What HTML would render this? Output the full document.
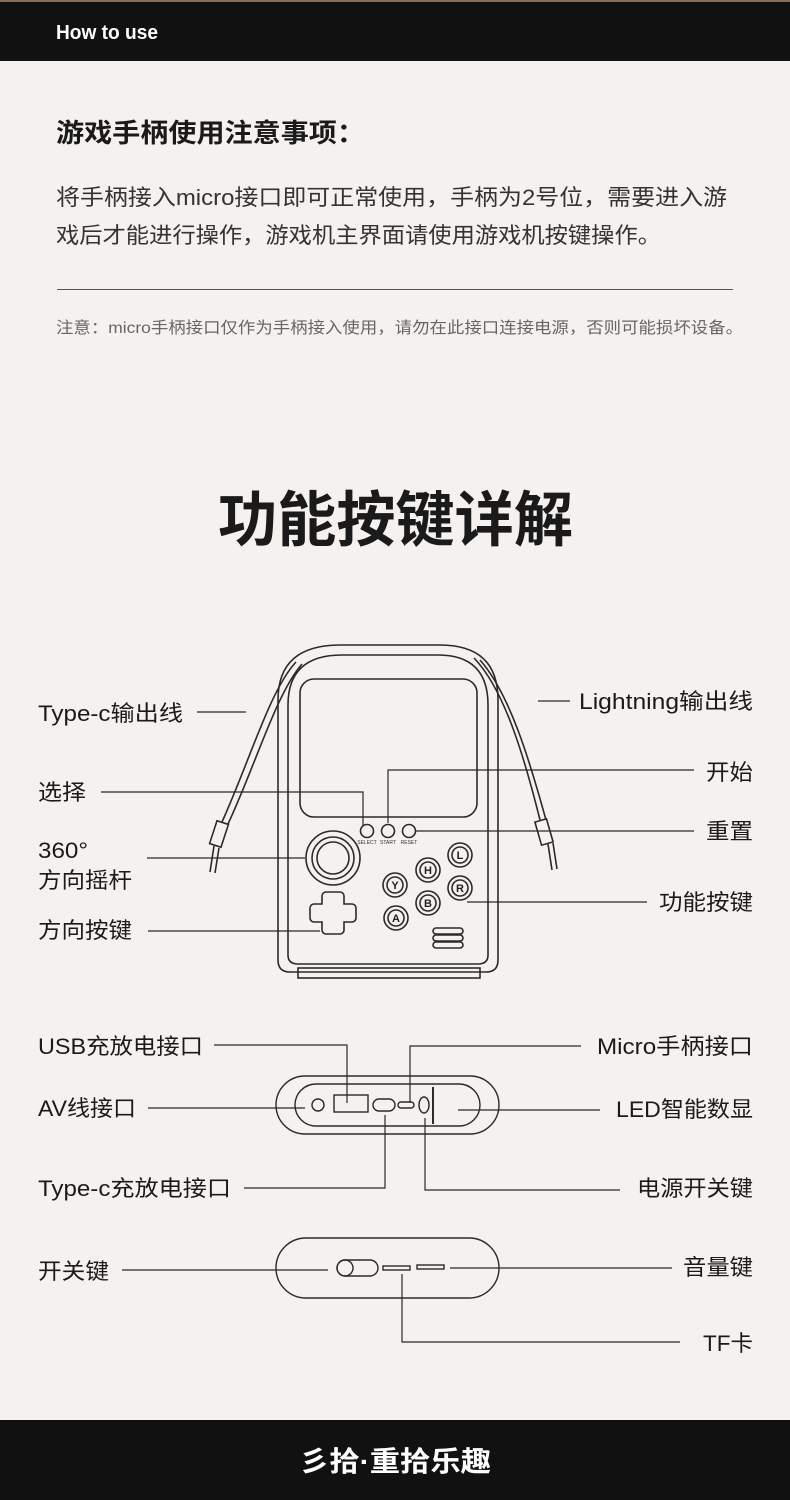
<!DOCTYPE html>
<html><head><meta charset="utf-8"><style>
html,body{margin:0;padding:0;background:#f5f1ee;}
svg{display:block;}
text{font-family:"Liberation Sans","Noto Sans CJK SC",sans-serif;}
</style></head><body>
<svg width="790" height="1500" viewBox="0 0 790 1500" xmlns="http://www.w3.org/2000/svg">
<rect width="790" height="1500" fill="#f5f1ee"/>
<rect x="0" y="0" width="790" height="61" fill="#111"/>
<rect x="0" y="0" width="790" height="2" fill="#8a6b58"/>
<text x="56" y="39" font-size="20" font-weight="bold" fill="#fff" textLength="102" lengthAdjust="spacingAndGlyphs">How to use</text>
<text x="56" y="142" font-size="26" font-weight="bold" fill="#1a1a1a" textLength="309" lengthAdjust="spacingAndGlyphs">游戏手柄使用注意事项：</text>
<text x="56" y="205" font-size="22" fill="#333" textLength="671" lengthAdjust="spacingAndGlyphs">将手柄接入micro接口即可正常使用，手柄为2号位，需要进入游</text>
<text x="56" y="243" font-size="22" fill="#333" textLength="605" lengthAdjust="spacingAndGlyphs">戏后才能进行操作，游戏机主界面请使用游戏机按键操作。</text>
<line x1="57" y1="289.5" x2="733" y2="289.5" stroke="#555" stroke-width="1"/>
<text x="56" y="333" font-size="16" fill="#666" textLength="687" lengthAdjust="spacingAndGlyphs">注意：micro手柄接口仅作为手柄接入使用，请勿在此接口连接电源，否则可能损坏设备。</text>
<text x="218" y="541" font-size="60" font-weight="bold" fill="#1a1a1a" textLength="355" lengthAdjust="spacingAndGlyphs">功能按键详解</text>

<g fill="none" stroke="#2a2a2a" stroke-width="1.6">
<path d="M296 662 C270 690 250 760 222 822"/>
<path d="M302 664 C276 694 256 764 228 824"/>
<rect x="213" y="822" width="12" height="24" transform="rotate(18 219 834)"/>
<line x1="214" y1="846" x2="210" y2="872"/>
<line x1="219" y1="848" x2="215" y2="873"/>
<path d="M474 658 C505 690 525 760 540 820"/>
<path d="M480 660 C510 694 530 762 546 820"/>
<rect x="538" y="820" width="12" height="24" transform="rotate(-16 544 832)"/>
<line x1="548" y1="844" x2="552" y2="870"/>
<line x1="553" y1="843" x2="557" y2="869"/>
<path d="M278 960 L278 700 Q278 645 340 645 L440 645 Q498 645 498 700 L498 960 Q498 972 486 972 L290 972 Q278 972 278 960 Z"/>
<path d="M288 955 L288 705 Q288 655 342 655 L438 655 Q488 655 488 705 L488 955 Q488 964 478 964 L298 964 Q288 964 288 955 Z"/>
<rect x="300" y="679" width="177" height="138" rx="14"/>
<rect x="298" y="968" width="182" height="10"/>
<circle cx="367" cy="831" r="6.5"/><circle cx="388" cy="831" r="6.5"/><circle cx="409" cy="831" r="6.5"/>
<circle cx="333" cy="858" r="27"/><circle cx="333" cy="858" r="21"/><circle cx="333" cy="858" r="16"/>
<path d="M326 895 h14 a4 4 0 0 1 4 4 v8 h8 a4 4 0 0 1 4 4 v10 a4 4 0 0 1 -4 4 h-8 v8 a4 4 0 0 1 -4 4 h-14 a4 4 0 0 1 -4 -4 v-8 h-8 a4 4 0 0 1 -4 -4 v-10 a4 4 0 0 1 4 -4 h8 v-8 a4 4 0 0 1 4 -4 Z" transform="translate(0,-3)"/>
<circle cx="460" cy="855" r="12"/><circle cx="460" cy="855" r="8"/>
<circle cx="428" cy="870" r="12"/><circle cx="428" cy="870" r="8"/>
<circle cx="395" cy="885" r="12"/><circle cx="395" cy="885" r="8"/>
<circle cx="460" cy="888" r="12"/><circle cx="460" cy="888" r="8"/>
<circle cx="428" cy="903" r="12"/><circle cx="428" cy="903" r="8"/>
<circle cx="396" cy="918" r="12"/><circle cx="396" cy="918" r="8"/>
<rect x="433" y="928" width="30" height="6" rx="3"/><rect x="433" y="935" width="30" height="6" rx="3"/><rect x="433" y="942" width="30" height="6" rx="3"/>
</g>
<g font-size="5" fill="#333" text-anchor="middle"><text x="367" y="844">SELECT</text><text x="388" y="844">START</text><text x="409" y="844">RESET</text></g>
<g font-size="11" font-weight="bold" fill="#222" text-anchor="middle"><text x="460" y="859">L</text><text x="428" y="874">H</text><text x="395" y="889">Y</text><text x="460" y="892">R</text><text x="428" y="907">B</text><text x="396" y="922">A</text></g>

<g fill="none" stroke="#2a2a2a" stroke-width="1.4">
<rect x="276" y="1076" width="223" height="58" rx="29"/>
<rect x="295" y="1084" width="185" height="42" rx="21"/>
<circle cx="318" cy="1105" r="6"/>
<rect x="334" y="1095" width="34" height="17"/>
<rect x="373" y="1099" width="22" height="12" rx="6"/>
<rect x="398" y="1102" width="16" height="6" rx="3"/>
<ellipse cx="424" cy="1105" rx="5" ry="8"/>
<line x1="433" y1="1087" x2="433" y2="1124" stroke-width="2"/>
<rect x="276" y="1238" width="223" height="60" rx="30"/>
<rect x="337" y="1260" width="41" height="16" rx="8"/>
<circle cx="345" cy="1268" r="8"/>
<rect x="383" y="1266" width="27" height="4"/>
<rect x="417" y="1265" width="27" height="4"/>
</g>

<g fill="none" stroke="#2a2a2a" stroke-width="1.2">
<line x1="197" y1="712" x2="246" y2="712"/>
<line x1="538" y1="701" x2="570" y2="701"/>
<polyline points="101,792 363,792 363,826"/>
<polyline points="388,823 388,770 694,770"/>
<line x1="415" y1="831" x2="694" y2="831"/>
<line x1="147" y1="858" x2="305" y2="858"/>
<line x1="467" y1="902" x2="647" y2="902"/>
<line x1="148" y1="931" x2="320" y2="931"/>
<polyline points="214,1045 347,1045 347,1103"/>
<polyline points="410,1103 410,1046 581,1046"/>
<line x1="148" y1="1108" x2="305" y2="1108"/>
<line x1="458" y1="1110" x2="600" y2="1110"/>
<polyline points="244,1188 385,1188 385,1115"/>
<polyline points="425,1118 425,1190 620,1190"/>
<line x1="122" y1="1270" x2="328" y2="1270"/>
<line x1="450" y1="1268" x2="672" y2="1268"/>
<polyline points="402,1274 402,1342 680,1342"/>
</g>

<g font-size="22" fill="#1a1a1a" lengthAdjust="spacingAndGlyphs">
<text x="38" y="721" textLength="145" lengthAdjust="spacingAndGlyphs">Type-c输出线</text>
<text x="579" y="709" textLength="174" lengthAdjust="spacingAndGlyphs">Lightning输出线</text>
<text x="38" y="800" textLength="48" lengthAdjust="spacingAndGlyphs">选择</text>
<text x="706" y="780" textLength="47" lengthAdjust="spacingAndGlyphs">开始</text>
<text x="706" y="839" textLength="47" lengthAdjust="spacingAndGlyphs">重置</text>
<text x="38" y="858" textLength="50" lengthAdjust="spacingAndGlyphs">360°</text>
<text x="38" y="888" textLength="94" lengthAdjust="spacingAndGlyphs">方向摇杆</text>
<text x="659" y="910" textLength="94" lengthAdjust="spacingAndGlyphs">功能按键</text>
<text x="38" y="938" textLength="94" lengthAdjust="spacingAndGlyphs">方向按键</text>
<text x="38" y="1054" textLength="165" lengthAdjust="spacingAndGlyphs">USB充放电接口</text>
<text x="597" y="1054" textLength="156" lengthAdjust="spacingAndGlyphs">Micro手柄接口</text>
<text x="38" y="1116" textLength="98" lengthAdjust="spacingAndGlyphs">AV线接口</text>
<text x="616" y="1117" textLength="137" lengthAdjust="spacingAndGlyphs">LED智能数显</text>
<text x="38" y="1196" textLength="193" lengthAdjust="spacingAndGlyphs">Type-c充放电接口</text>
<text x="637" y="1196" textLength="116" lengthAdjust="spacingAndGlyphs">电源开关键</text>
<text x="38" y="1279" textLength="71" lengthAdjust="spacingAndGlyphs">开关键</text>
<text x="683" y="1275" textLength="70" lengthAdjust="spacingAndGlyphs">音量键</text>
<text x="703" y="1351" textLength="50" lengthAdjust="spacingAndGlyphs">TF卡</text>
</g>

<rect x="0" y="1420" width="790" height="80" fill="#111"/>
<text x="299" y="1471" font-size="28" font-weight="bold" fill="#fff" textLength="192" lengthAdjust="spacingAndGlyphs">彡拾·重拾乐趣</text>
</svg>
</body></html>
